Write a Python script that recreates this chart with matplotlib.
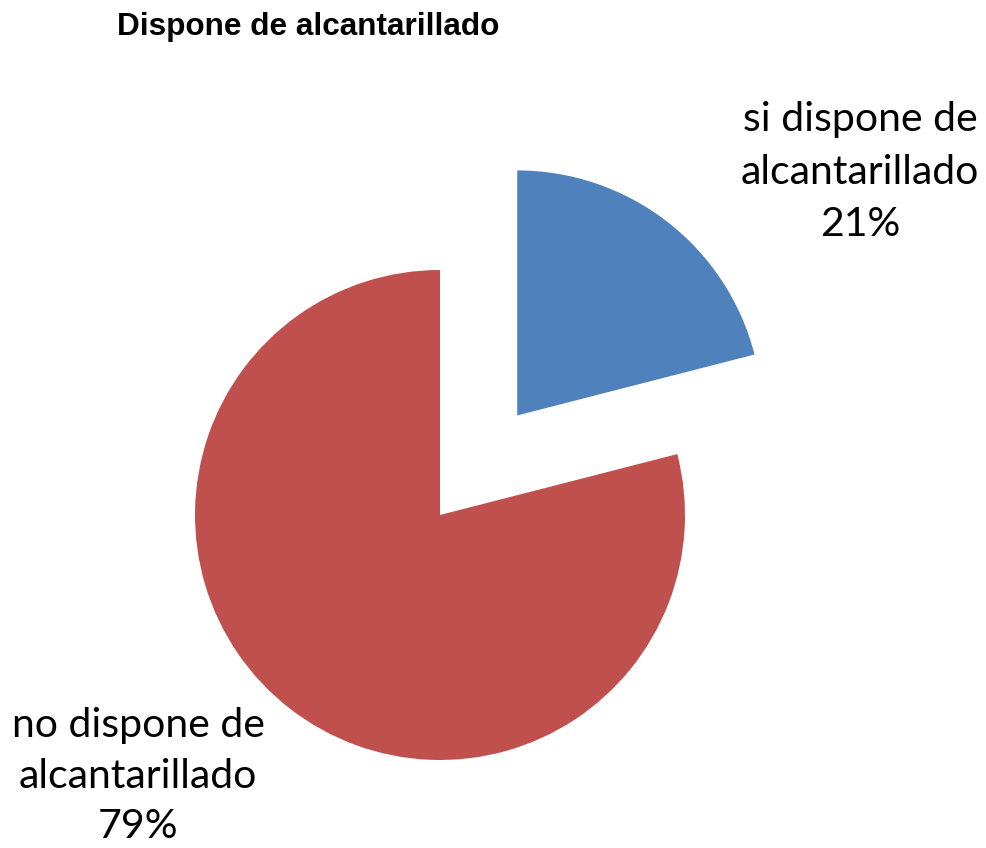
import matplotlib
matplotlib.use("Agg")
import matplotlib.pyplot as plt

# Data
labels = ["si dispone de\nalcantarillado\n21%", "no dispone de\nalcantarillado\n79%"]
values = [21, 79]
colors = ["#4F81BD", "#C0504D"]

W, H = 986, 848
fig = plt.figure(figsize=(W / 100, H / 100), dpi=100)
ax = fig.add_axes([0, 0, 1, 1])

# pie in pixel coordinates; explode is in data units here
cx, cy, r = 440, H - 515, 245
explode = [126, 0]
ax.pie(values, colors=colors, explode=explode, startangle=90, counterclock=False,
       center=(cx, cy), radius=r, wedgeprops=dict(linewidth=0))
ax.set_xlim(0, W)
ax.set_ylim(0, H)
ax.set_aspect("equal")
ax.axis("off")

label_font = dict(family=["Lato", "DejaVu Sans"], fontsize=29.5, color="black",
                  ha="center", va="center", linespacing=1.5)
ax.text(860, H - 172, labels[0], **label_font)
# bottom label sits at the lower edge, as in the reference
ax.text(138, H - 776, labels[1], **{**label_font, "linespacing": 1.45})

fig.text(117 / W, 1 - 27 / H, "Dispone de alcantarillado", fontsize=22.7,
         fontweight="bold", family=["Liberation Sans", "DejaVu Sans"],
         ha="left", va="center")

fig.savefig("out.png", dpi=100)
